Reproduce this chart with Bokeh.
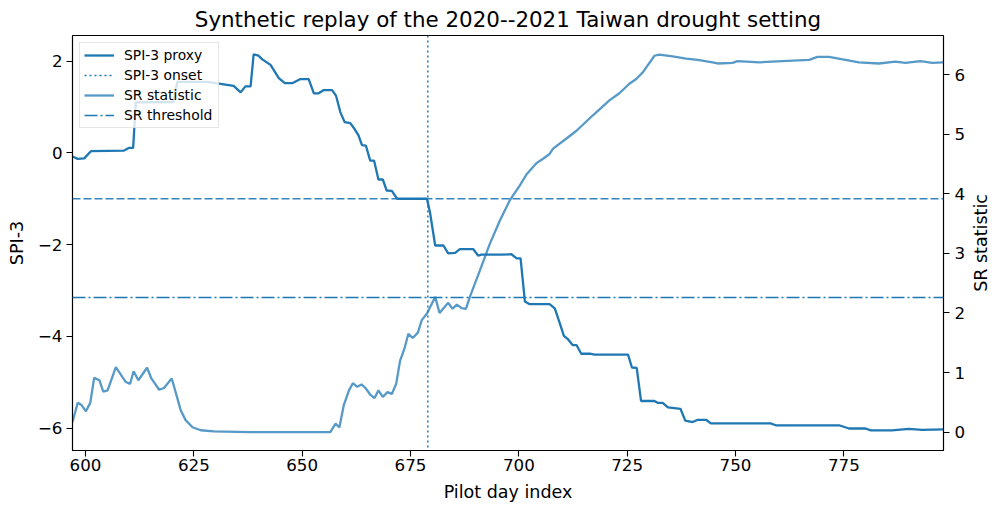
from bokeh.plotting import figure
from bokeh.layouts import row
from bokeh.models import (Range1d, LinearAxis, Span, Legend, LegendItem, Title,
                          FixedTicker, CustomJSTickFormatter)
from bokeh.embed import file_html
from bokeh.resources import INLINE

# ---------------- data ----------------
spi_day = [597, 598.2, 599.7, 601.3, 608.9, 610.1, 611.0, 611.6, 620.3, 621.2,
           628.0, 630.0, 634.2, 635.8, 636.9, 638.1, 638.8, 639.9, 640.8, 642.7,
           644.6, 646.0, 647.7, 649.6, 651.5, 652.7, 653.8, 655.0, 656.9, 657.8,
           658.8, 659.8, 661.1, 662.1, 663.0, 663.8, 664.7, 665.7, 666.6, 667.6,
           668.6, 669.5, 670.7, 671.9, 678.8, 679.5, 680.7, 682.6, 683.7, 685.3,
           686.4, 689.5, 690.6, 691.4, 696.0, 698.3, 699.5, 700.4, 701.4, 702.5,
           707.1, 708.3, 709.4, 710.4, 711.3, 712.4, 713.3, 714.4, 716.4, 717.5,
           725.2, 726.1, 727.2, 728.2, 731.3, 732.0, 733.2, 734.4, 737.3, 738.4,
           740.1, 741.3, 743.2, 744.3, 758.1, 759.3, 773.9, 776.2, 780.0, 781.2,
           786.1, 790.0, 793.1, 798.0]
spi_value = [-0.08, -0.13, -0.12, 0.04, 0.05, 0.11, 0.11, 1.10, 1.11, 1.55,
             1.55, 1.52, 1.46, 1.32, 1.45, 1.45, 2.15, 2.12, 2.04, 1.92,
             1.63, 1.52, 1.52, 1.61, 1.61, 1.30, 1.30, 1.37, 1.37, 1.25,
             0.89, 0.67, 0.65, 0.52, 0.38, 0.17, 0.16, -0.17, -0.17, -0.58,
             -0.58, -0.82, -0.83, -1.00, -1.00, -1.30, -2.02, -2.02, -2.19, -2.18,
             -2.10, -2.10, -2.24, -2.22, -2.22, -2.21, -2.30, -2.30, -3.24, -3.30,
             -3.30, -3.39, -3.70, -3.99, -4.06, -4.19, -4.19, -4.38, -4.38, -4.40,
             -4.40, -4.68, -4.69, -5.41, -5.41, -5.45, -5.45, -5.55, -5.58, -5.84,
             -5.87, -5.82, -5.82, -5.90, -5.90, -5.94, -5.94, -6.01, -6.01, -6.05,
             -6.05, -6.02, -6.04, -6.03]

sr_day = [597, 598.2, 599.0, 600.1, 601.1, 602.0, 603.2, 604.1, 605.1, 607.0,
          609.3, 610.3, 611.1, 612.2, 614.2, 615.2, 617.0, 618.1, 619.9, 620.8,
          622.0, 623.1, 624.7, 626.6, 629.6, 638.0, 656.5, 657.7, 658.6, 659.6,
          660.8, 661.7, 662.7, 663.7, 664.6, 665.7, 666.7, 667.6, 668.6, 669.7,
          670.7, 671.7, 672.6, 673.6, 674.5, 675.5, 676.7, 677.6, 678.8, 680.7,
          681.7, 683.7, 684.7, 685.7, 686.8, 687.8, 688.7, 691.0, 693.3, 695.6,
          697.9, 700.2, 701.8, 704.1, 705.6, 707.1, 707.9, 711.0, 713.3, 717.1,
          720.9, 723.2, 725.5, 727.1, 728.6, 731.3, 732.4, 735.5, 738.6, 741.3,
          744.7, 745.9, 749.3, 750.5, 755.5, 760.8, 767.0, 768.9, 771.6, 778.5,
          783.1, 786.9, 789.2, 792.7, 795.4, 798.0]
sr_value = [0.17, 0.49, 0.46, 0.35, 0.49, 0.91, 0.87, 0.68, 0.70, 1.09,
            0.84, 0.81, 1.02, 0.87, 1.08, 0.90, 0.71, 0.74, 0.90, 0.67,
            0.36, 0.20, 0.08, 0.03, 0.01, 0.00, 0.00, 0.14, 0.08, 0.45,
            0.70, 0.82, 0.76, 0.80, 0.74, 0.63, 0.57, 0.70, 0.59, 0.67,
            0.64, 0.81, 1.20, 1.40, 1.65, 1.58, 1.67, 1.88, 1.99, 2.27,
            2.00, 2.17, 2.07, 2.14, 2.08, 2.07, 2.27, 2.71, 3.16, 3.55,
            3.89, 4.14, 4.33, 4.52, 4.59, 4.67, 4.76, 4.93, 5.06, 5.32,
            5.57, 5.69, 5.85, 5.93, 6.04, 6.32, 6.34, 6.31, 6.27, 6.25,
            6.21, 6.19, 6.20, 6.23, 6.21, 6.23, 6.25, 6.30, 6.30, 6.21,
            6.19, 6.22, 6.20, 6.23, 6.20, 6.21]

spi_threshold = -1.0
sr_threshold = 2.26
onset_day = 679

x_ticks = [600, 625, 650, 675, 700, 725, 750, 775]
spi_ticks = [-6, -4, -2, 0, 2]
sr_ticks = [0, 1, 2, 3, 4, 5, 6]

# ---------------- styling ----------------
FONT = "DejaVu Sans"
BLUE = "#1f77b4"
TICK_FS = "16.7px"
LABEL_FS = "17.5px"

x_lo, x_hi = 597, 798
spi_lo, spi_hi = -6.49, 2.56
sr_lo, sr_hi = -0.31, 6.66

BORDER_TOP, BORDER_BOTTOM = 35, 55

p = figure(width=968, height=505, output_backend="svg", toolbar_location=None,
           x_range=Range1d(x_lo, x_hi), y_range=Range1d(spi_lo, spi_hi),
           min_border_left=72, min_border_right=23, min_border_top=BORDER_TOP,
           min_border_bottom=BORDER_BOTTOM,
           title="Synthetic replay of the 2020--2021 Taiwan drought setting")
p.extra_y_ranges = {"sr": Range1d(sr_lo, sr_hi)}

p.title.align = "center"
p.title.text_font = FONT
p.title.text_font_size = "21.4px"
p.title.text_font_style = "normal"
p.title.text_color = "black"
p.title.standoff = 8

p.xgrid.visible = False
p.ygrid.visible = False
p.outline_line_color = "black"
p.outline_line_width = 1.1
p.background_fill_color = "white"
p.border_fill_color = "white"

minus_fmt = CustomJSTickFormatter(code="""
    return tick < 0 ? "\u2212" + Math.abs(tick) : String(tick);
""")


def style_axis(ax, ticks, label):
    ax.ticker = FixedTicker(ticks=ticks)
    ax.formatter = minus_fmt
    if label:
        ax.axis_label = label
    ax.axis_label_text_font = FONT
    ax.axis_label_text_font_size = LABEL_FS
    ax.axis_label_text_font_style = "normal"
    ax.axis_label_text_color = "black"
    ax.major_label_text_font = FONT
    ax.major_label_text_font_size = TICK_FS
    ax.major_label_text_color = "black"
    ax.major_tick_out = 6
    ax.major_tick_in = 0
    ax.minor_tick_out = 0
    ax.minor_tick_in = 0
    ax.major_tick_line_width = 1.1
    ax.major_tick_line_color = "black"
    ax.axis_line_color = "black"
    ax.axis_line_width = 1.1
    ax.major_label_standoff = 4


style_axis(p.xaxis[0], x_ticks, "Pilot day index")
p.xaxis[0].axis_label_standoff = 8
p.xaxis[0].major_label_standoff = 2
style_axis(p.yaxis[0], spi_ticks, "SPI-3")
p.yaxis[0].axis_label_standoff = 8

right = LinearAxis(y_range_name="sr")
style_axis(right, sr_ticks, None)
right.major_label_standoff = 5
p.add_layout(right, "right")

# ---------------- marks ----------------
r_spi = p.line(spi_day, spi_value, line_color=BLUE, line_width=2.3)
r_sr = p.line(sr_day, sr_value, line_color=BLUE, line_alpha=0.75,
              line_width=2.3, y_range_name="sr")

p.add_layout(Span(location=spi_threshold, dimension="width", line_color=BLUE,
                  line_alpha=0.9, line_width=1.5, line_dash="8 3"))
p.add_layout(Span(location=sr_threshold, dimension="width", line_color=BLUE,
                  line_width=1.5, line_dash="13 3 2 3", y_range_name="sr"))
p.add_layout(Span(location=onset_day, dimension="height", line_color=BLUE,
                  line_width=1.5, line_dash="2 3"))

# legend proxies: single-point lines (draw nothing in the plot, style only)
r_onset = p.line([onset_day], [spi_threshold], line_color=BLUE,
                 line_width=1.5, line_dash="2 3")
r_thr = p.line([onset_day], [sr_threshold], line_color=BLUE, line_width=1.5,
               line_dash="13 3 2 3", y_range_name="sr")

legend = Legend(items=[
    LegendItem(label="SPI-3 proxy", renderers=[r_spi]),
    LegendItem(label="SPI-3 onset", renderers=[r_onset]),
    LegendItem(label="SR statistic", renderers=[r_sr]),
    LegendItem(label="SR threshold", renderers=[r_thr]),
], location="top_left")
legend.margin = 7
legend.padding = 4
legend.spacing = 4
legend.label_height = 16
legend.glyph_height = 16
legend.glyph_width = 30
legend.label_standoff = 10
legend.label_width = 90
legend.label_text_font = FONT
legend.label_text_font_size = "13.9px"
legend.label_text_color = "black"
legend.border_line_color = "#cccccc"
legend.border_line_width = 1
legend.background_fill_alpha = 0.8
p.add_layout(legend)

# ---------------- right-axis title (reads bottom-to-top) ----------------
p2 = figure(width=24, height=505, output_backend="svg", toolbar_location=None,
            x_axis_location=None, y_axis_location=None,
            min_border_left=22, min_border_right=0, min_border_top=BORDER_TOP,
            min_border_bottom=BORDER_BOTTOM)
p2.xgrid.visible = False
p2.ygrid.visible = False
p2.outline_line_color = None
p2.border_fill_color = "white"
p2.background_fill_color = "white"
p2.add_layout(Title(text="SR statistic", align="center", standoff=0,
                    text_font=FONT, text_font_size=LABEL_FS,
                    text_font_style="normal", text_color="black"), "left")

layout = row(p, p2, spacing=0)

open("out.html", "w").write(file_html(layout, INLINE))
